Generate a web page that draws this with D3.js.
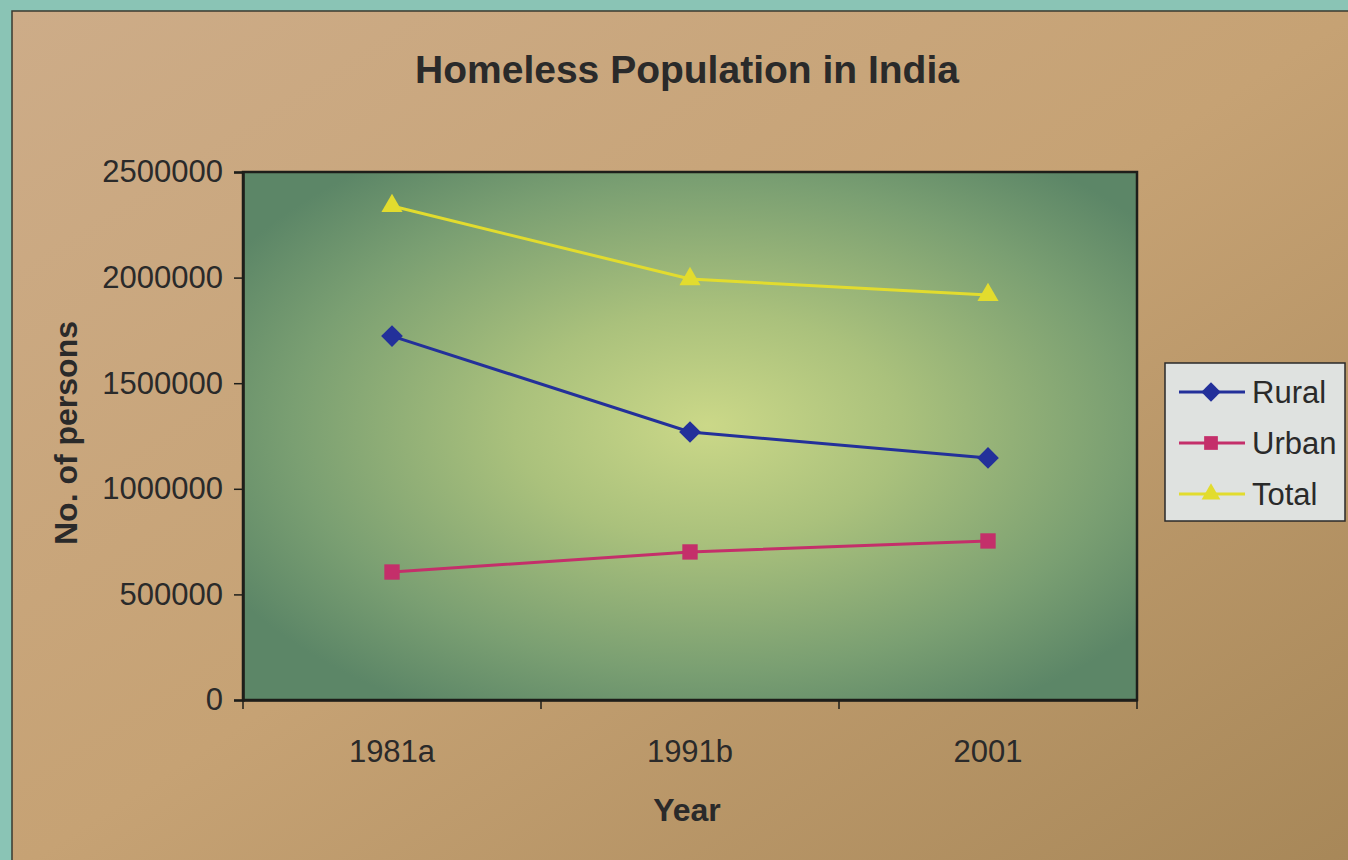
<!DOCTYPE html>
<html><head><meta charset="utf-8">
<script src="https://cdn.jsdelivr.net/npm/d3@7"></script>
<style>html,body{margin:0;padding:0;background:#8ac4b5;}svg{display:block;}</style>
</head><body>
<svg id="c" width="1348" height="860"></svg>
<script>
const years = ["1981a", "1991b", "2001"];
const rural = [1723000, 1269000, 1146000];
const urban = [606000, 701000, 753000];
const total = [2339000, 1993000, 1918000];
const seriesNames = ["Rural", "Urban", "Total"];
const yTicks = [0, 500000, 1000000, 1500000, 2000000, 2500000];

const colors = {Rural: "#23309a", Urban: "#c42f6a", Total: "#e2dc2e"};
const symbols = {Rural: d3.symbolDiamond2, Urban: d3.symbolSquare2, Total: d3.symbolTriangle2};
const values = {Rural: rural, Urban: urban, Total: total};

const svg = d3.select("#c");
const defs = svg.append("defs");
const bg = defs.append("linearGradient").attr("id","bg").attr("x1","0").attr("y1","0").attr("x2","1").attr("y2","1");
bg.append("stop").attr("offset","0").attr("stop-color","#cdac88");
bg.append("stop").attr("offset","0.5").attr("stop-color","#c6a274");
bg.append("stop").attr("offset","1").attr("stop-color","#a78758");
const pg = defs.append("radialGradient").attr("id","pg").attr("cx","0.52").attr("cy","0.48").attr("r","0.62");
pg.append("stop").attr("offset","0").attr("stop-color","#cbd888");
pg.append("stop").attr("offset","0.35").attr("stop-color","#aac17c");
pg.append("stop").attr("offset","0.75").attr("stop-color","#7a9f72");
pg.append("stop").attr("offset","1").attr("stop-color","#5c8667");

svg.append("rect").attr("x",0).attr("y",0).attr("width",1348).attr("height",860).attr("fill","#8ac4b5");
svg.append("rect").attr("x",12).attr("y",11).attr("width",1346).attr("height",860).attr("fill","url(#bg)")
  .attr("stroke","#3a3a30").attr("stroke-width",1.5);

const L = 243, R = 1137, T = 172, B = 700;
const x = d3.scaleBand().domain(years).range([L, R]);
const y = d3.scaleLinear().domain([0, 2500000]).range([B, T]);

svg.append("rect").attr("x",L).attr("y",T).attr("width",R-L).attr("height",B-T)
  .attr("fill","url(#pg)").attr("stroke","#1e1e1a").attr("stroke-width",2.5);

const font = "'Liberation Sans', Arial, sans-serif";

const yAxis = svg.append("g").attr("transform",`translate(${L},0)`)
  .call(d3.axisLeft(y).tickValues(yTicks).tickFormat(d3.format("d")).tickSize(9).tickPadding(11));
yAxis.select(".domain").attr("stroke","#1e1e1a").attr("stroke-width",2.5);
yAxis.selectAll(".tick line").attr("stroke","#1e1e1a").attr("stroke-width",1.5);
yAxis.selectAll("text").attr("font-family",font).attr("font-size",31).attr("fill","#2a2a2a");

const xAxis = svg.append("g").attr("transform",`translate(0,${B})`)
  .call(d3.axisBottom(x).tickSize(0).tickPadding(40));
xAxis.select(".domain").attr("stroke","#1e1e1a").attr("stroke-width",2.5);
xAxis.selectAll("text").attr("font-family",font).attr("font-size",31).attr("fill","#2a2a2a");
const bounds = years.map(d => x(d)).concat([R]);
xAxis.selectAll(".bt").data(bounds).enter().append("line").attr("class","bt")
  .attr("x1",d=>d).attr("x2",d=>d).attr("y1",0).attr("y2",9).attr("stroke","#1e1e1a").attr("stroke-width",1.5);

const cx = d => x(d) + x.bandwidth()/2;
const line = d3.line().x((v,i)=>cx(years[i])).y(v=>y(v));

seriesNames.forEach(name => {
  const vals = values[name];
  svg.append("path").attr("d", line(vals)).attr("fill","none")
    .attr("stroke", colors[name]).attr("stroke-width", 3);
  svg.selectAll(".m"+name).data(vals).enter().append("path")
    .attr("transform",(v,i)=>`translate(${cx(years[i])},${y(v)})`)
    .attr("d", d3.symbol().type(symbols[name]).size(name==="Total"?320:300))
    .attr("fill", colors[name]);
});

svg.append("text").attr("x",687).attr("y",83).attr("text-anchor","middle")
  .attr("font-family",font).attr("font-weight","bold").attr("font-size",39).attr("fill","#2a2a2a")
  .text("Homeless Population in India");
svg.append("text").attr("x",687).attr("y",821).attr("text-anchor","middle")
  .attr("font-family",font).attr("font-weight","bold").attr("font-size",32).attr("fill","#2a2a2a")
  .text("Year");
svg.append("text").attr("transform","translate(77,433) rotate(-90)").attr("text-anchor","middle")
  .attr("font-family",font).attr("font-weight","bold").attr("font-size",32).attr("fill","#2a2a2a")
  .text("No. of persons");

const lg = svg.append("g");
lg.append("rect").attr("x",1165).attr("y",363).attr("width",180).attr("height",158)
  .attr("fill","#dfe2e0").attr("stroke","#2a2a2a").attr("stroke-width",1.5);
seriesNames.forEach((name,i) => {
  const yy = 392 + i*51;
  lg.append("line").attr("x1",1179).attr("x2",1245).attr("y1",yy).attr("y2",yy)
    .attr("stroke",colors[name]).attr("stroke-width",3);
  lg.append("path").attr("transform",`translate(1211,${yy})`)
    .attr("d", d3.symbol().type(symbols[name]).size(name==="Total"?250:240)).attr("fill",colors[name]);
  lg.append("text").attr("x",1252).attr("y",yy+11).attr("font-family",font).attr("font-size",31)
    .attr("fill","#2a2a2a").text(name);
});
</script>
</body></html>
